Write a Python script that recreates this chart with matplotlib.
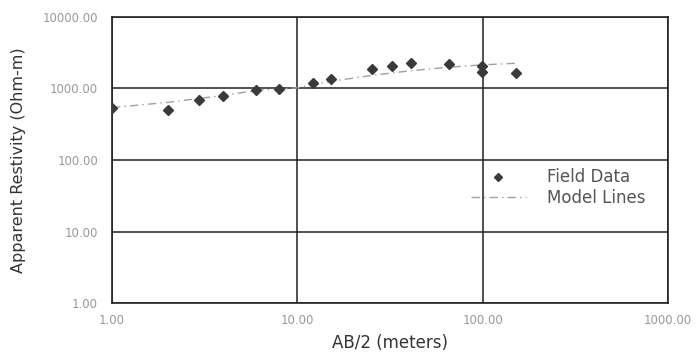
import matplotlib
matplotlib.use('Agg')
import matplotlib.pyplot as plt
from matplotlib.ticker import FixedLocator, FixedFormatter

plt.rcParams['font.family'] = ['DejaVu Sans']

# 野外实测数据 (AB/2, 视电阻率)
field_ab2 = [1.0, 2.0, 2.96, 3.97, 5.98, 8.0, 12.1, 15.1, 25.3, 32.5, 40.8, 65.8, 99.6, 99.6, 150.8]
field_rho = [537, 502, 679, 773, 937, 990, 1187, 1336, 1845, 2033, 2262, 2213, 2090, 1674, 1637]

# 模型曲线
model_ab2 = [1.0, 2.0, 4.0, 6.0, 10.0, 15.0, 25.0, 40.0, 65.0, 100.0, 150.0]
model_rho = [540, 640, 800, 940, 1020, 1250, 1520, 1760, 1980, 2140, 2250]

tick_vals = [1, 10, 100, 1000]
ytick_vals = [1, 10, 100, 1000, 10000]
xtick_labels = ['1.00', '10.00', '100.00', '1000.00']
ytick_labels = ['1.00', '10.00', '100.00', '1000.00', '10000.00']

fig = plt.figure(figsize=(6.97, 3.6), dpi=100)
ax = fig.add_axes([0.1607, 0.158, 0.798, 0.795])

ax.plot(model_ab2, model_rho, linestyle=(0, (6, 3, 1, 3)), color='#a0a0a0', linewidth=1.0,
        label='Model Lines', zorder=2)
ax.plot(field_ab2, field_rho, linestyle='none', marker='D', markersize=5.5,
        color='#3a3a3a', label='Field Data', zorder=3)

ax.set_xscale('log')
ax.set_yscale('log')
ax.set_xlim(1, 1000)
ax.set_ylim(1, 10000)

ax.xaxis.set_major_locator(FixedLocator(tick_vals))
ax.xaxis.set_major_formatter(FixedFormatter(xtick_labels))
ax.yaxis.set_major_locator(FixedLocator(ytick_vals))
ax.yaxis.set_major_formatter(FixedFormatter(ytick_labels))
ax.xaxis.set_minor_locator(FixedLocator([]))
ax.yaxis.set_minor_locator(FixedLocator([]))
ax.tick_params(length=0, labelsize=8.5, labelcolor='#999999')
ax.tick_params(axis='y', pad=10)
ax.tick_params(axis='x', pad=8)

ax.grid(True, color='#222222', linewidth=1.1)
for s in ax.spines.values():
    s.set_color('#222222')
    s.set_linewidth(1.2)

ax.set_xlabel('AB/2 (meters)', fontsize=12, color='#333333', labelpad=5)
ax.set_ylabel('Apparent Restivity (Ohm-m)', fontsize=11.5, color='#333333', labelpad=12)

# 图例
handles, labels = ax.get_legend_handles_labels()
ax.legend(handles[::-1], labels[::-1], loc='upper left', bbox_to_anchor=(0.63, 0.5),
          frameon=False, fontsize=12, labelcolor='#555555', handlelength=3.3,
          handletextpad=1.3, labelspacing=0.15, borderpad=0, markerscale=0.7)

fig.savefig('out.png', dpi=100, facecolor='white')
